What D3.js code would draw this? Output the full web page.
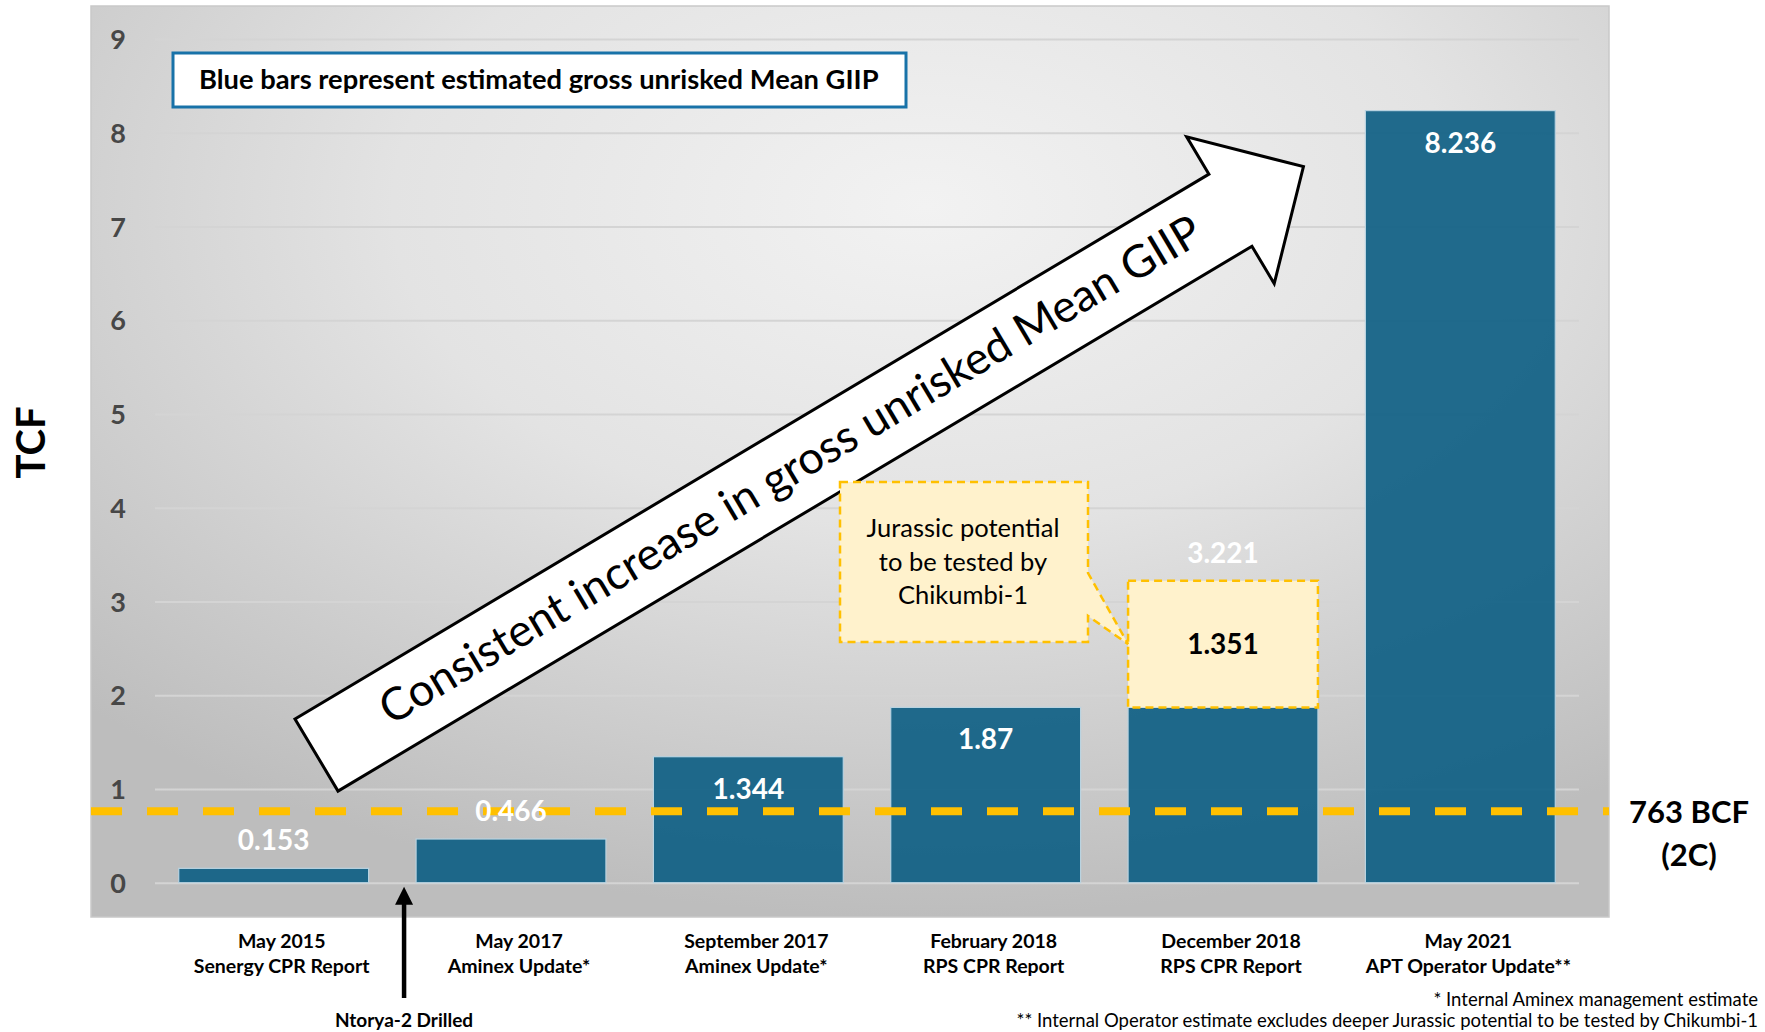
<!DOCTYPE html>
<html>
<head>
<meta charset="utf-8">
<script src="https://cdn.jsdelivr.net/npm/d3@7"></script>
<style>
  html, body { margin: 0; padding: 0; background: #ffffff; overflow: hidden; }
  svg { display: block; font-family: Lato, "Open Sans", sans-serif; }
</style>
</head>
<body>
<svg id="chart" width="1765" height="1032"></svg>
<script>
// Estimate dates and sources (two-line category labels)
const reportDates = ["May 2015", "May 2017", "September 2017", "February 2018", "December 2018", "May 2021"];
const reportSources = ["Senergy CPR Report", "Aminex Update*", "Aminex Update*", "RPS CPR Report", "RPS CPR Report", "APT Operator Update**"];

// Gross unrisked Mean GIIP, TCF (blue part of each bar)
const meanGiip = [0.153, 0.466, 1.344, 1.87, 1.87, 8.236];
// Additional Jurassic potential stacked on top (TCF)
const jurassicPotential = [0, 0, 0, 0, 1.351, 0];

// Value axis ticks
const yTicks = [0, 1, 2, 3, 4, 5, 6, 7, 8, 9];

// 2C contingent resource reference (BCF)
const contingent2C = 763;

const svg = d3.select("#chart");
const defs = svg.append("defs");

// Plot frame
const frame = { left: 91, top: 6, right: 1609, bottom: 917 };

const x = d3.scaleBand()
  .domain(reportDates)
  .range([155, 1579])
  .paddingInner(0.2)
  .paddingOuter(0.1);

const y = d3.scaleLinear()
  .domain([0, 9])
  .range([882.7, 39]);

// Background gradient of the plot area
const bg = defs.append("radialGradient")
  .attr("id", "plotBg")
  .attr("cx", 0.55).attr("cy", 0.22).attr("r", 0.78);
bg.append("stop").attr("offset", "0%").attr("stop-color", "#f2f2f2");
bg.append("stop").attr("offset", "45%").attr("stop-color", "#e3e3e3");
bg.append("stop").attr("offset", "100%").attr("stop-color", "#bdbdbd");

// Gridlines darken towards the baseline
const gridGrad = defs.append("linearGradient")
  .attr("id", "gridGrad")
  .attr("gradientUnits", "userSpaceOnUse")
  .attr("x1", 0).attr("y1", y(9)).attr("x2", 0).attr("y2", y(0));
[["0%", "#d4d4d4"], ["15%", "#cdcdcd"], ["45%", "#a6a6a6"], ["80%", "#919191"], ["100%", "#7a7a7a"]]
  .forEach(([o, c]) => gridGrad.append("stop").attr("offset", o).attr("stop-color", c));

svg.append("rect")
  .attr("x", frame.left).attr("y", frame.top)
  .attr("width", frame.right - frame.left).attr("height", frame.bottom - frame.top)
  .attr("fill", "url(#plotBg)")
  .attr("stroke", "#c9c9c9").attr("stroke-width", 1.5);

// Y axis: gridlines and bold tick labels
const yAxis = d3.axisLeft(y)
  .tickValues(yTicks)
  .tickSize(-(x.range()[1] - x.range()[0]))
  .tickPadding(29)
  .tickFormat(d3.format("d"));

const yAxisG = svg.append("g")
  .attr("transform", `translate(${x.range()[0]},0)`)
  .call(yAxis);
yAxisG.select(".domain").remove();
yAxisG.selectAll(".tick line")
  .attr("stroke", "url(#gridGrad)")
  .attr("stroke-width", 2);
yAxisG.selectAll(".tick text")
  .attr("font-family", "Lato, sans-serif")
  .attr("font-weight", 700)
  .attr("font-size", 27)
  .attr("fill", "#474747")
  .attr("dy", "0.36em");

// Axis title
svg.append("text")
  .attr("transform", "translate(31,442.5) rotate(-90)")
  .attr("text-anchor", "middle")
  .attr("dy", "0.36em")
  .attr("font-weight", 700)
  .attr("font-size", 40)
  .attr("fill", "#000")
  .text("TCF");

// Blue bars
const barData = reportDates.map((d, i) => ({
  date: d,
  source: reportSources[i],
  base: meanGiip[i],
  extra: jurassicPotential[i],
  total: +(meanGiip[i] + jurassicPotential[i]).toFixed(3)
}));

svg.append("g").selectAll("rect")
  .data(barData)
  .join("rect")
  .attr("x", d => x(d.date))
  .attr("y", d => y(d.base))
  .attr("width", x.bandwidth())
  .attr("height", d => y(0) - y(d.base))
  .attr("fill", "#0f6084")
  .attr("fill-opacity", 0.92)
  .attr("stroke", "#b9d3e0")
  .attr("stroke-width", 1.2);

// Jurassic potential segment
svg.append("g").selectAll("rect")
  .data(barData.filter(d => d.extra > 0))
  .join("rect")
  .attr("x", d => x(d.date))
  .attr("y", d => y(d.total))
  .attr("width", x.bandwidth())
  .attr("height", d => y(d.base) - y(d.total))
  .attr("fill", "#fff2cc")
  .attr("stroke", "#ffc000")
  .attr("stroke-width", 2.5)
  .attr("stroke-dasharray", "8,5");

// 2C reference line (BCF -> TCF)
const refY = y(contingent2C / 1000);
svg.append("line")
  .attr("x1", frame.left).attr("x2", frame.right)
  .attr("y1", refY).attr("y2", refY)
  .attr("stroke", "#ffc000")
  .attr("stroke-width", 8)
  .attr("stroke-dasharray", "31,25");

// Value labels
const fmt = v => String(+v.toFixed(3));
const insideLabel = d => d.extra === 0 && d.base >= 1;

svg.append("g").selectAll("text")
  .data(barData)
  .join("text")
  .attr("x", d => x(d.date) + x.bandwidth() / 2)
  .attr("y", d => insideLabel(d) ? y(d.total) + 42 : y(d.total) - 18)
  .attr("text-anchor", "middle")
  .attr("font-weight", 700)
  .attr("font-size", 28)
  .attr("fill", "#ffffff")
  .text(d => fmt(d.total));

svg.append("g").selectAll("text")
  .data(barData.filter(d => d.extra > 0))
  .join("text")
  .attr("x", d => x(d.date) + x.bandwidth() / 2)
  .attr("y", d => y(d.base + d.extra / 2))
  .attr("dy", "0.36em")
  .attr("text-anchor", "middle")
  .attr("font-weight", 700)
  .attr("font-size", 28)
  .attr("fill", "#000000")
  .text(d => fmt(d.extra));

// Category labels
const catG = svg.append("g").selectAll("text")
  .data(barData)
  .join("text")
  .attr("text-anchor", "middle")
  .attr("font-weight", 700)
  .attr("font-size", 19.5)
  .attr("fill", "#000");
catG.append("tspan")
  .attr("x", d => x(d.date) + x.bandwidth() / 2 + 8)
  .attr("y", 948)
  .text(d => d.date);
catG.append("tspan")
  .attr("x", d => x(d.date) + x.bandwidth() / 2 + 8)
  .attr("y", 973)
  .text(d => d.source);

// Ntorya-2 drilling marker
const drillX = x(reportDates[1]) - 12;
svg.append("line")
  .attr("x1", drillX).attr("x2", drillX)
  .attr("y1", 903).attr("y2", 998)
  .attr("stroke", "#000").attr("stroke-width", 4.5);
svg.append("path")
  .attr("d", `M${drillX},${y(0) + 4} L${drillX - 9},${y(0) + 22} L${drillX + 9},${y(0) + 22} Z`)
  .attr("fill", "#000");
svg.append("text")
  .attr("x", drillX).attr("y", 1027)
  .attr("text-anchor", "middle")
  .attr("font-weight", 700)
  .attr("font-size", 19)
  .text("Ntorya-2 Drilled");

// 2C label at the right of the plot
const bcfLabel = svg.append("text")
  .attr("text-anchor", "middle")
  .attr("font-weight", 700)
  .attr("font-size", 31)
  .attr("fill", "#000");
bcfLabel.append("tspan").attr("x", 1689).attr("y", refY + 11.5).text(`${contingent2C} BCF`);
bcfLabel.append("tspan").attr("x", 1689).attr("y", refY + 55).text("(2C)");

// Legend note box
svg.append("rect")
  .attr("x", 173).attr("y", 53).attr("width", 733).attr("height", 54)
  .attr("fill", "#ffffff")
  .attr("stroke", "#1872a8").attr("stroke-width", 3);
const note = svg.append("text")
  .attr("x", 199).attr("y", 89)
  .attr("font-weight", 700)
  .attr("font-size", 23)
  .attr("fill", "#000")
  .text("Blue bars represent estimated gross unrisked Mean GIIP");
{
  const w = note.node().getComputedTextLength();
  note.attr("font-size", 23 * 680 / w);
}

// Trend arrow with its caption
const arrowLen = 1149, headStart = 1064, shaftHalf = 42, headHalf = 85.5;
const trend = svg.append("g")
  .attr("transform", "translate(316.5,755) rotate(-30.8)");
trend.append("path")
  .attr("d", `M0,${-shaftHalf} L${headStart},${-shaftHalf} L${headStart},${-headHalf} L${arrowLen},0 ` +
             `L${headStart},${headHalf} L${headStart},${shaftHalf} L0,${shaftHalf} Z`)
  .attr("fill", "#ffffff")
  .attr("stroke", "#000")
  .attr("stroke-width", 3)
  .attr("stroke-linejoin", "miter");
const trendText = trend.append("text")
  .attr("x", 553).attr("y", 13)
  .attr("text-anchor", "middle")
  .attr("font-weight", 400)
  .attr("font-size", 40)
  .attr("fill", "#000")
  .text("Consistent increase in gross unrisked Mean GIIP");
{
  const w = trendText.node().getComputedTextLength();
  trendText.attr("font-size", 40 * 948 / w);
}

// Callout pointing to the Jurassic segment
const tipX = x(reportDates[4]);
const tipY = y(meanGiip[4] + jurassicPotential[4] / 2);
svg.append("path")
  .attr("d", `M840,482 H1088 V573 L${tipX},${tipY} L1088,616 V642 H840 Z`)
  .attr("fill", "#fff2cc")
  .attr("stroke", "#ffc000")
  .attr("stroke-width", 2.5)
  .attr("stroke-dasharray", "8,5");
const callout = svg.append("text")
  .attr("text-anchor", "middle")
  .attr("font-weight", 400)
  .attr("font-size", 25.5)
  .attr("fill", "#000");
["Jurassic potential", "to be tested by", "Chikumbi-1"].forEach((t, i) => {
  callout.append("tspan").attr("x", 963).attr("y", 537 + i * 33.5).text(t);
});

// Footnotes, right-aligned to the page edge
const foot = svg.append("g")
  .attr("font-weight", 400)
  .attr("font-size", 18.5)
  .attr("text-anchor", "end")
  .attr("fill", "#000");
foot.append("text").attr("x", 1758).attr("y", 1006).text("* Internal Aminex management estimate");
foot.append("text").attr("x", 1758).attr("y", 1027).text("** Internal Operator estimate excludes deeper Jurassic potential to be tested by Chikumbi-1");
</script>
</body>
</html>
